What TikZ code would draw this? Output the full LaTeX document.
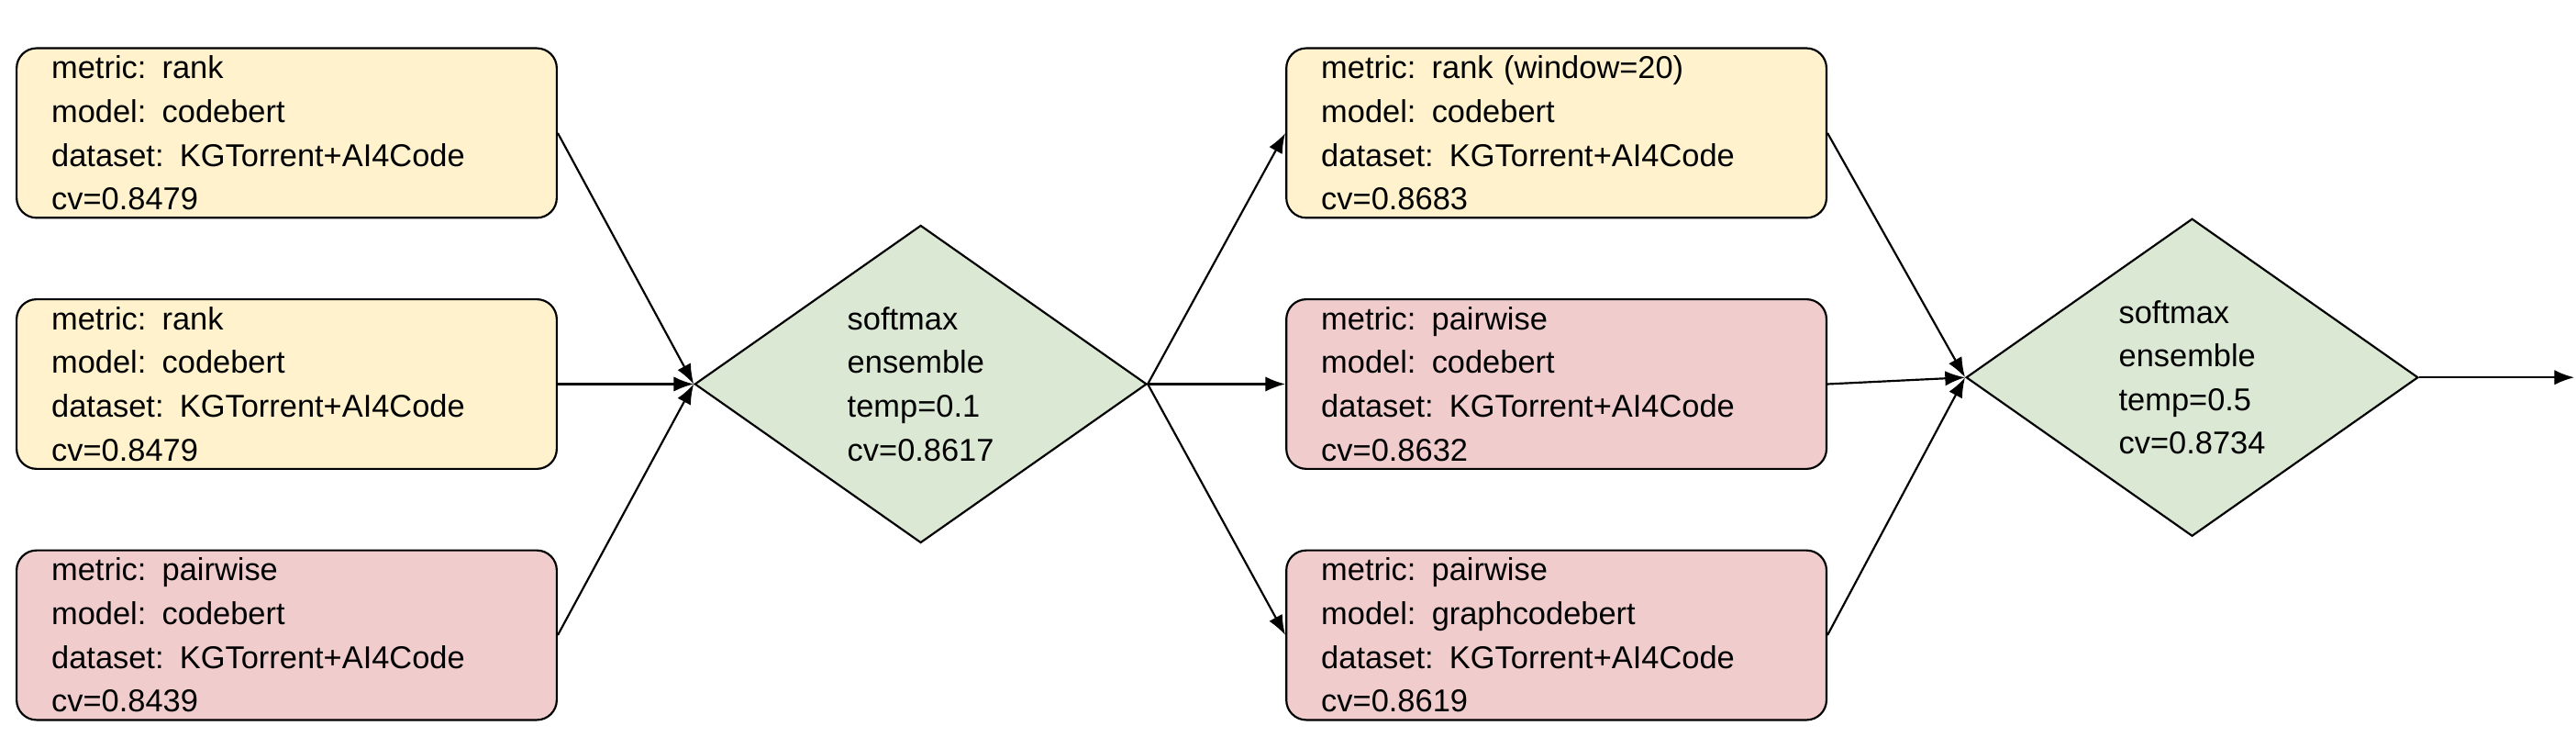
\documentclass[tikz,border=0pt]{standalone}
\usepackage{fontspec}
\setmainfont{Liberation Sans}
\usetikzlibrary{shapes.geometric,arrows.meta}
\definecolor{cy}{HTML}{FFF2CC}
\definecolor{cr}{HTML}{F0CCCC}
\definecolor{cg}{HTML}{DAE8D4}
\begin{document}
\begin{tikzpicture}[x=1pt,y=1pt,
  box/.style={draw,line width=1.2pt,rounded corners=12pt,minimum width=325pt,minimum height=102pt,
    inner xsep=21pt,inner ysep=0pt,text width=283pt,align=left,font=\fontsize{19}{26.3}\selectfont},
  dia/.style={draw,line width=1.2pt,diamond,shape aspect=1.42,minimum width=272pt,minimum height=191pt,
    inner sep=0pt,fill=cg,align=left,font=\fontsize{19}{26.3}\selectfont},
  arr/.style={-{Latex[length=12pt,width=9pt]},line width=1.2pt}]
\useasboundingbox (0,0) rectangle (1550,442.7);
\node[box,fill=cy] (a1) at (172.5,362.7) {metric: rank\\model: codebert\\dataset: KGTorrent+AI4Code\\cv=0.8479};
\node[box,fill=cy] (a2) at (172.5,211.7) {metric: rank\\model: codebert\\dataset: KGTorrent+AI4Code\\cv=0.8479};
\node[box,fill=cr] (a3) at (172.5,60.7) {metric: pairwise\\model: codebert\\dataset: KGTorrent+AI4Code\\cv=0.8439};
\node[dia] (d1) at (554,211.7) {softmax\\ensemble\\temp=0.1\\cv=0.8617};
\node[box,fill=cy] (b1) at (936.5,362.7) {metric: rank (window=20)\\model: codebert\\dataset: KGTorrent+AI4Code\\cv=0.8683};
\node[box,fill=cr] (b2) at (936.5,211.7) {metric: pairwise\\model: codebert\\dataset: KGTorrent+AI4Code\\cv=0.8632};
\node[box,fill=cr] (b3) at (936.5,60.7) {metric: pairwise\\model: graphcodebert\\dataset: KGTorrent+AI4Code\\cv=0.8619};
\node[dia] (d2) at (1319,215.7) {softmax\\ensemble\\temp=0.5\\cv=0.8734};
\coordinate (out) at (1549,215.7);
\draw[arr] (a1.east) -- (d1.west);
\draw[arr] (a2.east) -- (d1.west);
\draw[arr] (a3.east) -- (d1.west);
\draw[arr] (d1.east) -- (b1.west);
\draw[arr] (d1.east) -- (b2.west);
\draw[arr] (d1.east) -- (b3.west);
\draw[arr] (b1.east) -- (d2.west);
\draw[arr] (b2.east) -- (d2.west);
\draw[arr] (b3.east) -- (d2.west);
\draw[arr] (d2.east) -- (out);
\end{tikzpicture}
\end{document}
